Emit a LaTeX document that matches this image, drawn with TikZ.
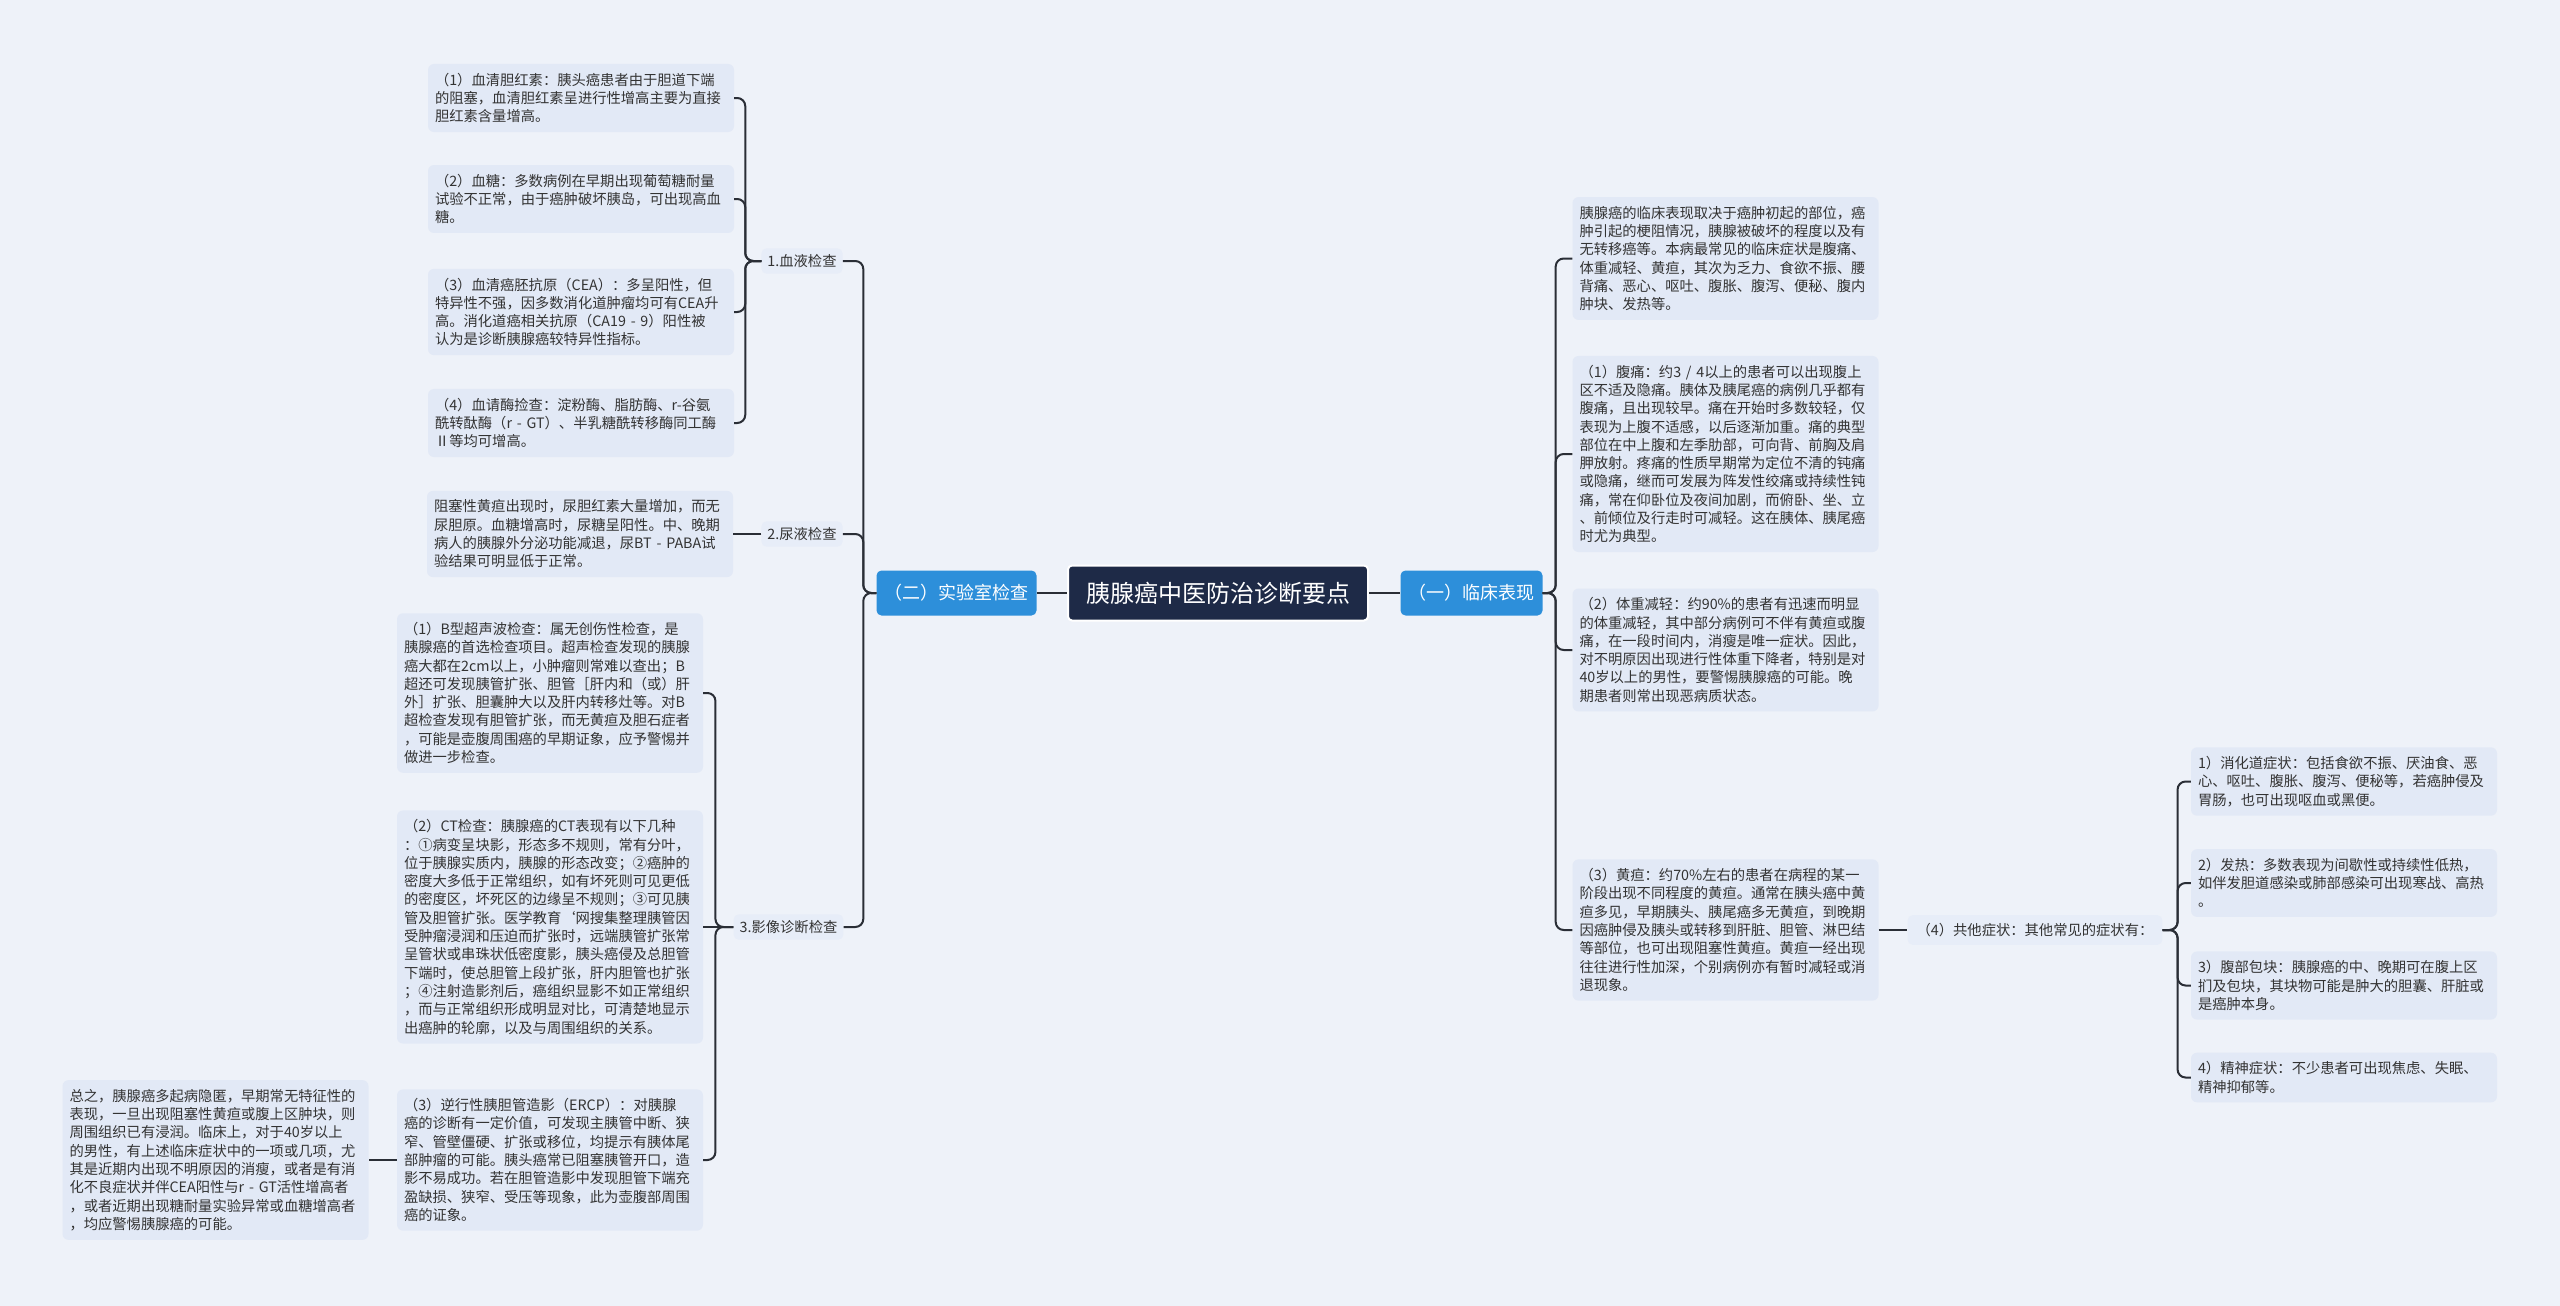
\documentclass[tikz,border=0pt]{standalone}
\usepackage{fontspec}
\setmainfont{Noto Sans CJK SC}
\usetikzlibrary{calc}
\definecolor{bg}{HTML}{EEF2F9}
\definecolor{boxfill}{HTML}{E2E9F6}
\definecolor{labfill}{HTML}{E7EDF8}
\definecolor{rootfill}{HTML}{1E2A47}
\definecolor{bluefill}{HTML}{2D8FDA}
\definecolor{linec}{HTML}{2A2E36}
\definecolor{textc}{HTML}{333333}
\newcommand{\bodyfont}{\fontsize{14.3}{18.3}\selectfont}
\tikzset{
  leaf/.style={fill=boxfill, rounded corners=6pt, inner xsep=7pt, inner ysep=9pt, text width=292pt, align=left, font=\bodyfont, text=textc},
  lab/.style={fill=labfill, rounded corners=5pt, inner xsep=6pt, inner ysep=6pt, font=\bodyfont, text=textc},
  mainnode/.style={fill=bluefill, text=white, rounded corners=5pt, font=\fontsize{18}{20}\selectfont, minimum height=45pt, inner xsep=8pt},
  rootnode/.style={fill=rootfill, draw=white, line width=2pt, text=white, rounded corners=4pt, font=\fontsize{24}{26}\selectfont, minimum height=55pt, minimum width=300pt},
  conn/.style={draw=linec, line width=2pt, rounded corners=8pt}
}
\begin{document}
\begin{tikzpicture}[x=1pt,y=-1pt]
\fill[bg] (0,0) rectangle (2560,1306);
\useasboundingbox (0,0) rectangle (2560,1306);

% root and main branches
\node[rootnode] (root) at (1218,593) {胰腺癌中医防治诊断要点};
\node[mainnode] (lab) at (956.5,593) {（二）实验室检查};
\node[mainnode] (clin) at (1471.5,593) {（一）临床表现};

% left labels
\node[lab] (blood) at (802,261) {1.血液检查};
\node[lab] (urine) at (802,534) {2.尿液检查};
\node[lab] (image) at (788.5,927) {3.影像诊断检查};

% blood items
\node[leaf] (b1) at (581,98) {（1）血清胆红素：胰头癌患者由于胆道下端\\的阻塞，血清胆红素呈进行性增高主要为直接\\胆红素含量增高。};
\node[leaf] (b2) at (581,199) {（2）血糖：多数病例在早期出现葡萄糖耐量\\试验不正常，由于癌肿破坏胰岛，可出现高血\\糖。};
\node[leaf] (b3) at (581,312) {（3）血清癌胚抗原（CEA）：多呈阳性，但\\特异性不强，因多数消化道肿瘤均可有CEA升\\高。消化道癌相关抗原（CA19 - 9）阳性被\\认为是诊断胰腺癌较特异性指标。};
\node[leaf] (b4) at (581,423) {（4）血请酶捡查：淀粉酶、脂肪酶、r-谷氨\\酰转酞酶（r - GT）、半乳糖酰转移酶同工酶\\Ⅱ等均可增高。};

% urine item
\node[leaf] (u1) at (580,534) {阻塞性黄疸出现时，尿胆红素大量增加，而无\\尿胆原。血糖增高时，尿糖呈阳性。中、晚期\\病人的胰腺外分泌功能减退，尿BT - PABA试\\验结果可明显低于正常。};

% imaging items
\node[leaf] (i1) at (550,693) {（1）B型超声波检查：属无创伤性检查，是\\胰腺癌的首选检查项目。超声检查发现的胰腺\\癌大都在2cm以上，小肿瘤则常难以查出；B\\超还可发现胰管扩张、胆管［肝内和（或）肝\\外］扩张、胆囊肿大以及肝内转移灶等。对B\\超检查发现有胆管扩张，而无黄疸及胆石症者\\，可能是壶腹周围癌的早期证象，应予警惕并\\做进一步检查。};
\node[leaf] (i2) at (550,927) {（2）CT检查：胰腺癌的CT表现有以下几种\\：①病变呈块影，形态多不规则，常有分叶，\\位于胰腺实质内，胰腺的形态改变；②癌肿的\\密度大多低于正常组织，如有坏死则可见更低\\的密度区，坏死区的边缘呈不规则；③可见胰\\管及胆管扩张。医学教育`网搜集整理胰管因\\受肿瘤浸润和压迫而扩张时，远端胰管扩张常\\呈管状或串珠状低密度影，胰头癌侵及总胆管\\下端时，使总胆管上段扩张，肝内胆管也扩张\\；④注射造影剂后，癌组织显影不如正常组织\\，而与正常组织形成明显对比，可清楚地显示\\出癌肿的轮廓，以及与周围组织的关系。};
\node[leaf] (i3) at (550,1160) {（3）逆行性胰胆管造影（ERCP）：对胰腺\\癌的诊断有一定价值，可发现主胰管中断、狭\\窄、管壁僵硬、扩张或移位，均提示有胰体尾\\部肿瘤的可能。胰头癌常已阻塞胰管开口，造\\影不易成功。若在胆管造影中发现胆管下端充\\盈缺损、狭窄、受压等现象，此为壶腹部周围\\癌的证象。};
\node[leaf] (sum) at (215.5,1160) {总之，胰腺癌多起病隐匿，早期常无特征性的\\表现，一旦出现阻塞性黄疸或腹上区肿块，则\\周围组织已有浸润。临床上，对于40岁以上\\的男性，有上述临床症状中的一项或几项，尤\\其是近期内出现不明原因的消瘦，或者是有消\\化不良症状并伴CEA阳性与r - GT活性增高者\\，或者近期出现糖耐量实验异常或血糖增高者\\，均应警惕胰腺癌的可能。};

% right items
\node[leaf] (r0) at (1725.5,258.5) {胰腺癌的临床表现取决于癌肿初起的部位，癌\\肿引起的梗阻情况，胰腺被破坏的程度以及有\\无转移癌等。本病最常见的临床症状是腹痛、\\体重减轻、黄疸，其次为乏力、食欲不振、腰\\背痛、恶心、呕吐、腹胀、腹泻、便秘、腹内\\肿块、发热等。};
\node[leaf] (r1) at (1725.5,454) {（1）腹痛：约3 / 4以上的患者可以出现腹上\\区不适及隐痛。胰体及胰尾癌的病例几乎都有\\腹痛，且出现较早。痛在开始时多数较轻，仅\\表现为上腹不适感，以后逐渐加重。痛的典型\\部位在中上腹和左季肋部，可向背、前胸及肩\\胛放射。疼痛的性质早期常为定位不清的钝痛\\或隐痛，继而可发展为阵发性绞痛或持续性钝\\痛，常在仰卧位及夜间加剧，而俯卧、坐、立\\、前倾位及行走时可减轻。这在胰体、胰尾癌\\时尤为典型。};
\node[leaf] (r2) at (1725.5,650) {（2）体重减轻：约90\%的患者有迅速而明显\\的体重减轻，其中部分病例可不伴有黄疸或腹\\痛，在一段时间内，消瘦是唯一症状。因此，\\对不明原因出现进行性体重下降者，特别是对\\40岁以上的男性，要警惕胰腺癌的可能。晚\\期患者则常出现恶病质状态。};
\node[leaf] (r3) at (1725.5,930) {（3）黄疸：约70\%左右的患者在病程的某一\\阶段出现不同程度的黄疸。通常在胰头癌中黄\\疸多见，早期胰头、胰尾癌多无黄疸，到晚期\\因癌肿侵及胰头或转移到肝脏、胆管、淋巴结\\等部位，也可出现阻塞性黄疸。黄疸一经出现\\往往进行性加深，个别病例亦有暂时减轻或消\\退现象。};
\node[lab, inner xsep=9pt, inner ysep=8pt] (other) at (2035,930) {（4）共他症状：其他常见的症状有：};
\node[leaf] (o1) at (2344,781.5) {1）消化道症状：包括食欲不振、厌油食、恶\\心、呕吐、腹胀、腹泻、便秘等，若癌肿侵及\\胃肠，也可出现呕血或黑便。};
\node[leaf] (o2) at (2344,883) {2）发热：多数表现为间歇性或持续性低热，\\如伴发胆道感染或肺部感染可出现寒战、高热\\。};
\node[leaf] (o3) at (2344,985.5) {3）腹部包块：胰腺癌的中、晚期可在腹上区\\扪及包块，其块物可能是肿大的胆囊、肝脏或\\是癌肿本身。};
\node[leaf] (o4) at (2344,1077.5) {4）精神症状：不少患者可出现焦虑、失眠、\\精神抑郁等。};

% connectors
\draw[conn] (lab.east) -- (root.west);
\draw[conn] (root.east) -- (clin.west);
\draw[conn] (lab.west) -- ++(-13,0) |- (blood.east);
\draw[conn] (lab.west) -- ++(-13,0) |- (image.east);
\draw[conn] (lab.west) -- ++(-13,0) |- (urine.east);

\foreach \c in {b1,b2,b3,b4}{\draw[conn] (blood.west) -- ++(-16,0) |- (\c.east);}
\draw[conn] (urine.west) -- (u1.east);
\draw[conn] (image.west) -- ++(-18,0) |- (i1.east);
\draw[conn] (image.west) -- (i2.east);
\draw[conn] (image.west) -- ++(-18,0) |- (i3.east);
\draw[conn] (i3.west) -- (sum.east);

\foreach \c in {r0,r1,r2}{\draw[conn] (clin.east) -- ++(13,0) |- (\c.west);}
\draw[conn] (clin.east) -- ++(13,0) |- (r3.west);
\draw[conn] (r3.east) -- (other.west);
\foreach \c in {o1,o2,o3,o4}{\draw[conn] (other.east) -- ++(15,0) |- (\c.west);}
\end{tikzpicture}
\end{document}
